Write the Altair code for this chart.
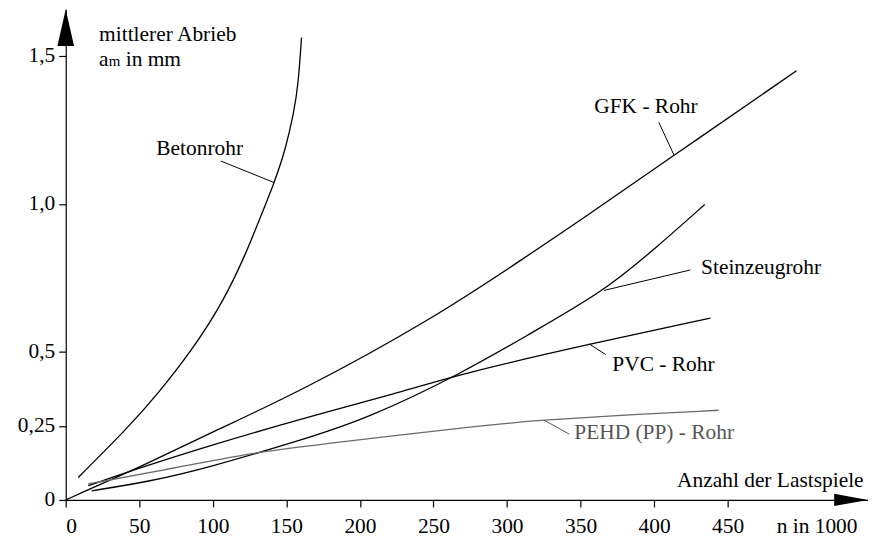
import altair as alt
import pandas as pd

# ---------------- data ----------------
beton_n = [8.5, 41.3, 61.6, 86.3, 107.8, 122.5, 131.5, 141.6, 149.5, 155.1, 158.0, 160.3]
beton_a = [0.076, 0.239, 0.352, 0.508, 0.676, 0.833, 0.945, 1.069, 1.185, 1.310, 1.400, 1.562]

gfk_n = [0, 17.6, 52.5, 97.6, 158.5, 248.7, 316.4, 350.2, 413.4, 496.8]
gfk_a = [0, 0.040, 0.115, 0.225, 0.364, 0.609, 0.833, 0.946, 1.164, 1.450]

stein_n = [17.6, 57, 97.6, 158.5, 203.7, 269, 316.4, 366, 402, 434.4]
stein_a = [0.031, 0.062, 0.110, 0.200, 0.272, 0.427, 0.564, 0.705, 0.855, 0.998]

pvc_n = [15.3, 52.5, 97.6, 158.5, 226.2, 269, 357, 438.2]
pvc_a = [0.048, 0.112, 0.183, 0.272, 0.362, 0.427, 0.528, 0.614]

pehd_n = [15.3, 63.8, 136, 158.5, 293.8, 324.3, 361.5, 443.8]
pehd_a = [0.054, 0.099, 0.166, 0.179, 0.258, 0.269, 0.282, 0.303]

series_names = ["Betonrohr", "GFK - Rohr", "Steinzeugrohr", "PVC - Rohr", "PEHD (PP) - Rohr"]
series_colors = ["#000000", "#000000", "#000000", "#000000", "#6a6a6a"]

x_ticks = [0, 50, 100, 150, 200, 250, 300, 350, 400, 450]
y_ticks = [0, 0.25, 0.5, 1.0, 1.5]

# curve labels: text, anchor (n, a), leader start/end
label_text = ["Betonrohr", "GFK - Rohr", "Steinzeugrohr", "PVC - Rohr", "PEHD (PP) - Rohr"]
label_n = [61.6, 359.3, 431.9, 371.6, 345.7]
label_a = [1.164, 1.309, 0.764, 0.435, 0.2075]
label_col = ["#000000", "#000000", "#000000", "#000000", "#555555"]
lead_n1 = [105.5, 403.2, 424.6, 367.1, 342.4]
lead_a1 = [1.145, 1.276, 0.777, 0.491, 0.222]
lead_n2 = [141.8, 413.6, 366.0, 355.9, 325.4]
lead_a2 = [1.072, 1.164, 0.708, 0.527, 0.269]

X_MAX = 545.4
Y_MAX = 1.658
FONT = "Liberation Serif, Times New Roman, serif"
FS = 21.5

rows = []
for name, xs, ys in [
    ("Betonrohr", beton_n, beton_a),
    ("GFK - Rohr", gfk_n, gfk_a),
    ("Steinzeugrohr", stein_n, stein_a),
    ("PVC - Rohr", pvc_n, pvc_a),
    ("PEHD (PP) - Rohr", pehd_n, pehd_a),
]:
    for i, (x, y) in enumerate(zip(xs, ys)):
        rows.append({"series": name, "n": x, "a": y, "i": i})
df = pd.DataFrame(rows)

xscale = alt.Scale(domain=[0, X_MAX], nice=False, zero=False)
yscale = alt.Scale(domain=[0, Y_MAX], nice=False, zero=False)

lines = alt.Chart(df).mark_line(strokeWidth=1.3, interpolate="basis").encode(
    x=alt.X("n:Q", scale=xscale, title=None,
            axis=alt.Axis(values=x_ticks, format="d", labelPadding=9, labelOverlap=False)),
    y=alt.Y("a:Q", scale=yscale, title=None,
            axis=alt.Axis(values=y_ticks, labelPadding=4, labelOverlap=False,
                          labelExpr="datum.value == 0 ? '0' : datum.value == 0.25 ? '0,25' : replace(format(datum.value, '.1f'), '.', ',')")),
    color=alt.Color("series:N", scale=alt.Scale(domain=series_names, range=series_colors), legend=None),
    order="i:Q",
)

lead_df = pd.DataFrame({"n1": lead_n1, "a1": lead_a1, "n2": lead_n2, "a2": lead_a2, "c": label_col})
leaders = alt.Chart(lead_df).mark_rule(strokeWidth=1).encode(
    x=alt.X("n1:Q", scale=xscale, title=None), y=alt.Y("a1:Q", scale=yscale, title=None),
    x2="n2:Q", y2="a2:Q", color=alt.Color("c:N", scale=None),
)

lab_df = pd.DataFrame({"n": label_n, "a": label_a, "t": label_text, "c": label_col})
labels = alt.Chart(lab_df).mark_text(align="left", baseline="alphabetic", font=FONT, fontSize=FS).encode(
    x=alt.X("n:Q", scale=xscale, title=None), y=alt.Y("a:Q", scale=yscale, title=None),
    text="t:N", color=alt.Color("c:N", scale=None),
)

# axis titles
title_df = pd.DataFrame({
    "n": [22.7, 22.7, 29.3, 40.8, 415.6, 483.3],
    "a": [1.551, 1.467, 1.467, 1.467, 0.043, -0.112],
    "t": ["mittlerer Abrieb", "a", "m", "in mm", "Anzahl der Lastspiele", "n in 1000"],
    "fs": [FS, FS, 15, FS, FS, FS],
})
titles = alt.Chart(title_df).mark_text(align="left", baseline="alphabetic", font=FONT, color="black").encode(
    x=alt.X("n:Q", scale=xscale, title=None), y=alt.Y("a:Q", scale=yscale, title=None),
    text="t:N", size=alt.Size("fs:Q", scale=None, legend=None),
)

# arrow heads at the ends of the axes
arrow_x = alt.Chart(pd.DataFrame({"n": [X_MAX - 11.5], "a": [0]})).mark_point(
    shape="M1,0L-1,-0.36L-1,0.36Z", filled=True, size=1156, color="black", opacity=1
).encode(x=alt.X("n:Q", scale=xscale, title=None), y=alt.Y("a:Q", scale=yscale, title=None))
arrow_y = alt.Chart(pd.DataFrame({"n": [0], "a": [Y_MAX - 0.0622]})).mark_point(
    shape="M0,-1L0.45,1L-0.45,1Z", filled=True, size=1369, color="black", opacity=1
).encode(x=alt.X("n:Q", scale=xscale, title=None), y=alt.Y("a:Q", scale=yscale, title=None))

chart = alt.layer(lines, leaders, labels, titles, arrow_x, arrow_y).properties(
    width=806, height=493,
    autosize=alt.AutoSizeParams(type="none"),
    padding={"left": 58, "top": 0, "right": 0, "bottom": 36},
    background="white",
).configure_view(stroke=None).configure_axis(
    grid=False, domainColor="black", domainWidth=1.2, tickColor="black", tickWidth=1.2,
    tickSize=7, labelFont=FONT, labelFontSize=FS, labelColor="black",
)

chart.save("out.html", embed_options={"renderer": "svg", "actions": False})
